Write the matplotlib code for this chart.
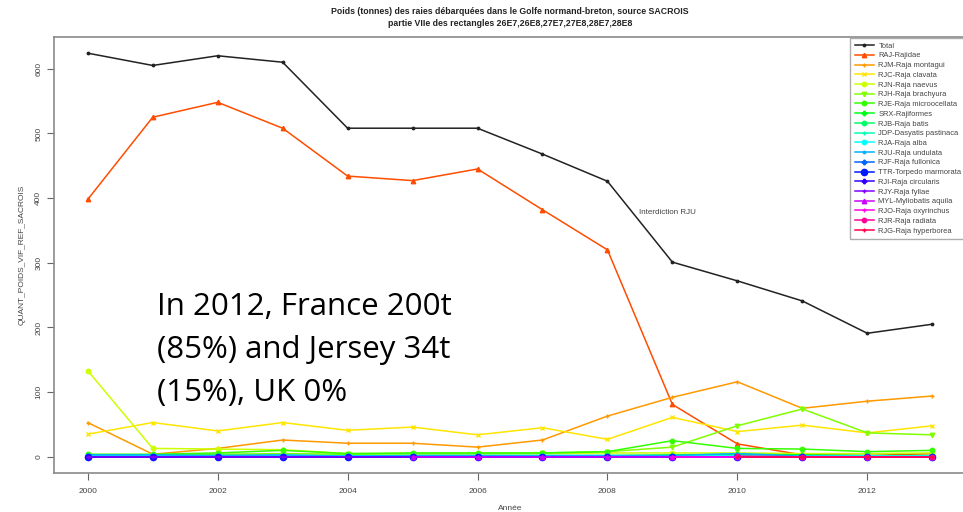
import colorsys
import numpy as np
import matplotlib
matplotlib.use("Agg")
import matplotlib.pyplot as plt

plt.rcParams["font.family"] = ["Liberation Sans", "DejaVu Sans"]

years = list(range(2000, 2014))

labels = [
    "Total", "RAJ-Rajidae", "RJM-Raja montagui", "RJC-Raja clavata",
    "RJN-Raja naevus", "RJH-Raja brachyura", "RJE-Raja microocellata",
    "SRX-Rajiformes", "RJB-Raja batis", "JDP-Dasyatis pastinaca",
    "RJA-Raja alba", "RJU-Raja undulata", "RJF-Raja fullonica",
    "TTR-Torpedo marmorata", "RJI-Raja circularis", "RJY-Raja fyllae",
    "MYL-Myliobatis aquila", "RJO-Raja oxyrinchus", "RJR-Raja radiata",
    "RJG-Raja hyperborea",
]

nan = np.nan
total = [624, 605, 620, 610, 508, 508, 508, 468, 426, 301, 272, 241, 191, 205]
raj = [398, 525, 548, 508, 434, 427, 445, 382, 320, 81, 20, 3, 2, 5]
rjm = [53, 4, 13, 26, 21, 21, 15, 26, 63, 92, 116, 75, 86, 94]
rjc = [35, 53, 40, 53, 41, 46, 34, 45, 27, 61, 39, 49, 37, 48]
rjn = [133, 13, 12, 11, 5, 5, 5, 5, 6, 6, 6, 5, 5, 6]
rjh = [3, 3, 4, 5, 4, 5, 5, 6, 8, 15, 48, 74, 37, 34]
rje = [4, 4, 6, 10, 5, 6, 6, 6, 8, 25, 13, 12, 8, 10]
srx = [2, 2, 2, 2, 2, 2, 2, 2, 2, 3, 4, 3, 2, 2]
rjb = [1, 1, 1, 1, 1, 1, 1, 1, 1, 1, 2, 1, 1, 1]
jdp = [1, 1, 1, 1, 1, 1, 1, 1, 1, 1, 1, 1, 1, 1]
rja = [1, 1, 1, 1, 1, 1, 1, 1, 1, 1, 1, 1, 1, 1]
rju = [3, 3, 2, 3, 1, 2, 2, 2, 2, 2, 5, 1, 0, 0]
rjf = [0, 0, 0, 0, 0, 0, 0, 0, 0, 0, 0, 0, 0, 0]
ttr = [0, 0, 0, 0, 0, 0, 0, 0, 0, 0, 0, 0, 0, 0]
rji = [0, 0, 0, 0, 0, 0, 0, 0, 0, 0, 0, 0, 0, 0]
rjy = [0, 0, 0, 0, 0, 0, 0, 0, 0, 0, 0, 0, 0, 0]
myl = [nan, nan, nan, nan, nan, 0, 0, 0, 0, 0, 0, 0, 0, 0]
rjo = [nan, nan, nan, nan, nan, nan, nan, nan, nan, 0, 0, 0, 0, 0]
rjr = [nan, nan, nan, nan, nan, nan, nan, nan, nan, nan, 1, 0, 0, 0]
rjg = [nan, nan, nan, nan, nan, nan, nan, nan, nan, nan, 0, 0, 0, 0]

series = [total, raj, rjm, rjc, rjn, rjh, rje, srx, rjb, jdp, rja, rju,
          rjf, ttr, rji, rjy, myl, rjo, rjr, rjg]

markers = [".", "^", "+", "x", "o", "v", "o", "P", "o", "+",
           "o", ".", "P", "o", "P", "+", "^", "+", "o", "+"]

# rainbow palette over the 20 series, first one drawn in dark grey
n = len(series)
colors = ["#222222"] + [colorsys.hsv_to_rgb(i / n, 1, 1) for i in range(1, n)]

fig = plt.figure(figsize=(9.63, 5.12), dpi=100)
ax = fig.add_axes([54 / 963, 39 / 512, 912 / 963, 436 / 512])

for vals, lab, col, mk in zip(series, labels, colors, markers):
    ms = 3.5 if mk == "." else 3.2
    if lab == "TTR-Torpedo marmorata":
        ms = 4.5
    ax.plot(years, vals, color=col, marker=mk, markersize=ms, lw=1.1,
            markeredgewidth=1.0, label=lab)

ax.set_xlim(1999.48, 2013.52)
ax.set_ylim(-25, 649)
ax.set_xticks([2000, 2002, 2004, 2006, 2008, 2010, 2012])
ax.set_yticks([0, 100, 200, 300, 400, 500, 600])
for lab in ax.get_yticklabels():
    lab.set_rotation(90)
    lab.set_va("center")
ax.tick_params(axis="both", labelsize=6, colors="#666666", labelcolor="#444444",
               length=5, width=0.8, direction="out")
ax.tick_params(axis="x", pad=6)
for sp in ax.spines.values():
    sp.set_color("#8a8a8a")
    sp.set_linewidth(1.2)

ax.set_xlabel("Année", fontsize=6, color="#444444", labelpad=7)
ax.set_ylabel("QUANT_POIDS_VIF_REF_SACROIS", fontsize=6, color="#444444", labelpad=7)

ax.text(2008.93, 378, "Interdiction RJU", fontsize=5.8, color="#444444",
        ha="center", va="center")

fig.text(510 / 963, 1 - 12 / 512,
         "Poids (tonnes) des raies débarquées dans le Golfe normand-breton, source SACROIS",
         ha="center", va="center", fontsize=6.3, fontweight="bold", color="#222222")
fig.text(510 / 963, 1 - 24 / 512,
         "partie VIIe des rectangles 26E7,26E8,27E7,27E8,28E7,28E8",
         ha="center", va="center", fontsize=6.3, fontweight="bold", color="#222222")

leg = ax.legend(loc="upper left", bbox_to_anchor=(850 / 963, 1 - 38 / 512),
                bbox_transform=fig.transFigure, fontsize=5.4, frameon=True,
                fancybox=False, edgecolor="#999999", borderaxespad=0,
                labelspacing=0.33, handlelength=2.6, handletextpad=0.6,
                borderpad=0.6)
leg.get_frame().set_linewidth(1.0)
for t in leg.get_texts():
    t.set_color("#444444")

# annotation block
note_lines = ["In 2012, France 200t", "(85%) and Jersey 34t", "(15%), UK 0%"]
for i, line in enumerate(note_lines):
    fig.text(157 / 963, 1 - (315 + 43 * i) / 512, line, fontsize=22.5,
             family=["Open Sans", "DejaVu Sans"], color="black", va="baseline", ha="left")

fig.savefig("out.png", dpi=100)
